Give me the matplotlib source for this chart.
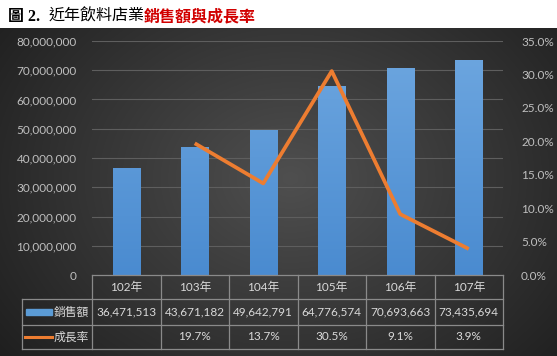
import matplotlib
matplotlib.use('Agg')
from matplotlib import pyplot as plt
from matplotlib.lines import Line2D
from matplotlib.colors import LinearSegmentedColormap
import numpy as np

plt.rcParams['font.family'] = ['Lato', 'Noto Sans CJK TC', 'DejaVu Sans']

years = ['102年', '103年', '104年', '105年', '106年', '107年']
sales = [36471513, 43671182, 49642791, 64776574, 70693663, 73435694]
growth = [None, 19.7, 13.7, 30.5, 9.1, 3.9]
left_ticks = [0, 10000000, 20000000, 30000000, 40000000, 50000000, 60000000, 70000000, 80000000]
right_ticks = [0, 5, 10, 15, 20, 25, 30, 35]
series_names = ['銷售額', '成長率']

W, H = 557, 356
fig = plt.figure(figsize=(W / 100, H / 100), dpi=100)
fig.patch.set_facecolor('white')

# background: dark radial gradient below the title band
bg = fig.add_axes([0, 0, 1, (H - 28) / H])
bg.set_axis_off()
yy, xx = np.mgrid[0:328, 0:557]
r = np.sqrt(((xx - 290) / 330.0) ** 2 + ((yy - 150) / 260.0) ** 2)
shade = np.clip(0.31 - 0.17 * r, 0.12, 0.31)
bg.imshow(np.dstack([shade, shade, shade]), aspect='auto', extent=(0, 557, 328, 0))
bg.set_xlim(0, 557)
bg.set_ylim(328, 0)

# main axes in pixel box
px_left, px_right, px_top, px_bottom = 92, 503, 41, 275
ax = fig.add_axes([px_left / W, (H - px_bottom) / H, (px_right - px_left) / W, (px_bottom - px_top) / H])
ax.patch.set_alpha(0)
x = np.arange(len(years))
bars = ax.bar(x, sales, width=0.4, color='#5b9bd5', zorder=3)

# vertical gradient inside each bar
bar_cmap = LinearSegmentedColormap.from_list('barblue', ['#4a8bd0', '#6ea7e0'])
grad = np.linspace(0, 1, 256).reshape(-1, 1)
for b in bars:
    bx, bw = b.get_x(), b.get_width()
    im = ax.imshow(grad, cmap=bar_cmap, aspect='auto', origin='lower',
                   extent=(bx, bx + bw, 0, 80000000), zorder=3.5, vmin=0, vmax=1)
    im.set_clip_path(b)
ax.set_xlim(-0.5, len(years) - 0.5)
ax.set_ylim(0, 80000000)

ax.set_yticks(left_ticks)
ax.set_yticklabels(['{:,}'.format(v) for v in left_ticks])
ax.set_xticks([])
for v in left_ticks[1:]:
    ax.axhline(v, color='#5e5e5e', lw=0.8, zorder=1)
for s in ax.spines.values():
    s.set_visible(False)
ax.tick_params(axis='y', length=0, pad=11, labelsize=8.5, labelcolor='#bfbfbf')

ax2 = ax.twinx()
gx = [i for i, g in enumerate(growth) if g is not None]
gy = [g for g in growth if g is not None]
ax2.plot(gx, gy, color='#ed7d31', lw=2.7, solid_joinstyle='round', solid_capstyle='butt', zorder=4)
ax2.set_ylim(0, 35)
ax2.set_yticks(right_ticks)
ax2.set_yticklabels(['{:.1f}%'.format(v) for v in right_ticks])
for s in ax2.spines.values():
    s.set_visible(False)
ax2.tick_params(axis='y', length=0, pad=13, labelsize=8.5, labelcolor='#bfbfbf')

# data table below the chart
ov = fig.add_axes([0, 0, 1, 1])
ov.set_xlim(0, W)
ov.set_ylim(H, 0)
ov.set_axis_off()
ov.patch.set_alpha(0)

gcol = '#8a8a8a'
tcol = '#d9d9d9'
leg_left = 22
rows = [275, 299, 325, 349]
colw = (px_right - px_left) / len(years)
# horizontal lines
ov.add_line(Line2D([px_left, px_right], [rows[0], rows[0]], color=gcol, lw=0.9))
for ry in rows[1:]:
    ov.add_line(Line2D([leg_left, px_right], [ry, ry], color=gcol, lw=0.9))
# vertical lines
ov.add_line(Line2D([leg_left, leg_left], [rows[1], rows[3]], color=gcol, lw=0.9))
for i in range(len(years) + 1):
    cx = px_left + i * colw
    ov.add_line(Line2D([cx, cx], [rows[0], rows[3]], color=gcol, lw=0.9))

for i in range(len(years)):
    cx = px_left + (i + 0.5) * colw
    ov.text(cx, (rows[0] + rows[1]) / 2, years[i], color=tcol, fontsize=8.5, ha='center', va='center')
    ov.text(cx, (rows[1] + rows[2]) / 2, '{:,}'.format(sales[i]), color=tcol, fontsize=8.5, ha='center', va='center')
    if growth[i] is not None:
        ov.text(cx, (rows[2] + rows[3]) / 2, '{:.1f}%'.format(growth[i]), color=tcol, fontsize=8.5, ha='center', va='center')

# legend keys in the first column
y1 = (rows[1] + rows[2]) / 2
y2 = (rows[2] + rows[3]) / 2
ov.add_patch(plt.Rectangle((26, y1 - 3), 26, 6, color='#5b9bd5'))
ov.add_line(Line2D([25, 52], [y2, y2], color='#ed7d31', lw=2.2))
ov.text(54, y1, series_names[0], color=tcol, fontsize=8.5, ha='left', va='center')
ov.text(54, y2, series_names[1], color=tcol, fontsize=8.5, ha='left', va='center')

# title in three pieces on a shared baseline
renderer = fig.canvas.get_renderer()
t1 = ov.text(8, 21, '圖 2.', fontsize=11.5, fontweight='bold', color='black',
             family=['Liberation Serif', 'Noto Sans CJK TC'], ha='left', va='baseline')
x2 = t1.get_window_extent(renderer).x1 + 8
t2 = ov.text(x2, 21, '近年飲料店業', fontsize=11.5, color='black',
             family=['Noto Sans CJK TC'], fontweight='medium', ha='left', va='baseline')
x3 = t2.get_window_extent(renderer).x1
ov.text(x3, 21, '銷售額與成長率', fontsize=11.5, color='#d10000',
        family=['Noto Sans CJK TC'], fontweight='bold', ha='left', va='baseline')

fig.savefig('out.png', dpi=100)
